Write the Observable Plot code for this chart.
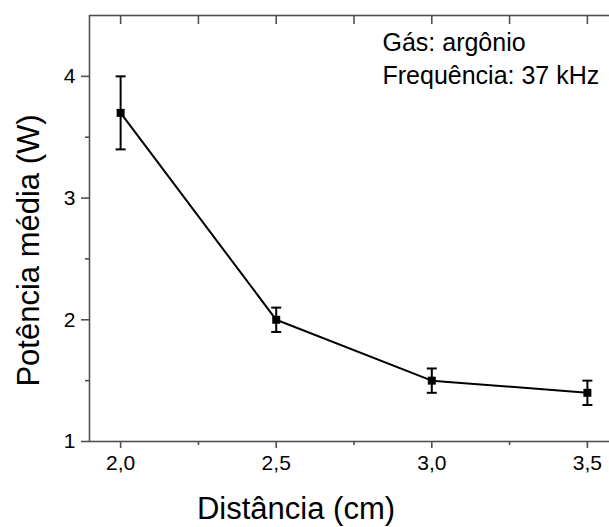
<!DOCTYPE html>
<html>
<head>
<meta charset="utf-8">
<script src="https://cdn.jsdelivr.net/npm/d3@7"></script>
<script src="https://cdn.jsdelivr.net/npm/@observablehq/plot@0.6"></script>
<style>
  html, body { margin: 0; padding: 0; background: white; overflow: hidden; }
  #chart svg { max-width: none !important; }
</style>
</head>
<body>
<div id="chart"></div>
<script>
// Data
const distancia = [2.0, 2.5, 3.0, 3.5];
const potencia = [3.7, 2.0, 1.5, 1.4];
const erro = [0.3, 0.1, 0.1, 0.1];

const xTicks = [2.0, 2.5, 3.0, 3.5];
const xTickLabels = ["2,0", "2,5", "3,0", "3,5"];
const xMinorTicks = [2.25, 2.75, 3.25];
const xTopTicks = [2.0, 2.25, 2.5, 2.75, 3.0, 3.25, 3.5];
const yTicks = [1, 2, 3, 4];
const yTickLabels = ["1", "2", "3", "4"];
const yMinorTicks = [1.5, 2.5, 3.5];

const xTitle = "Distância (cm)";
const yTitle = "Potência média (W)";
const annotationLines = ["Gás: argônio", "Frequência: 37 kHz"];

const data = distancia.map((d, i) => ({
  x: d, y: potencia[i], lo: potencia[i] - erro[i], hi: potencia[i] + erro[i]
}));

const capSymbol = {
  draw(ctx, size) {
    const r = Math.sqrt(size / Math.PI);
    ctx.moveTo(-r, 0);
    ctx.lineTo(r, 0);
  }
};

const axisColor = "#505050";
const font = "'Liberation Sans', Arial, Helvetica, sans-serif";

const chart = Plot.plot({
  width: 628,
  height: 527,
  marginLeft: 89,
  marginRight: 10,
  marginTop: 15,
  marginBottom: 86,
  style: { fontFamily: font, background: "white", color: "black", maxWidth: "none" },
  x: { domain: [1.9, 3.6], label: null },
  y: { domain: [1, 4.5], label: null },
  marks: [
    Plot.frame({ stroke: axisColor, strokeWidth: 1.6 }),
    // bottom axis
    Plot.axisX(xTicks, {
      anchor: "bottom", tickSize: 7, tickPadding: 7, fontSize: 21,
      stroke: axisColor, strokeWidth: 1.6, fill: "black",
      tickFormat: d => xTickLabels[xTicks.indexOf(d)], label: null
    }),
    Plot.axisX(xMinorTicks, {
      anchor: "bottom", tickSize: 4, stroke: axisColor, strokeWidth: 1.6,
      tickFormat: () => "", label: null
    }),
    // top axis (inward ticks)
    Plot.axisX(xTopTicks, {
      anchor: "top", tickSize: -8, stroke: axisColor, strokeWidth: 1.6,
      tickFormat: () => "", label: null
    }),
    // left axis
    Plot.axisY(yTicks, {
      anchor: "left", tickSize: 8, tickPadding: 6, fontSize: 21,
      stroke: axisColor, strokeWidth: 1.6, fill: "black",
      tickFormat: d => yTickLabels[yTicks.indexOf(d)], label: null
    }),
    Plot.axisY(yMinorTicks, {
      anchor: "left", tickSize: 4, stroke: axisColor, strokeWidth: 1.6,
      tickFormat: () => "", label: null
    }),
    // right axis (inward ticks)
    Plot.axisY(yTicks, {
      anchor: "right", tickSize: -10, stroke: axisColor, strokeWidth: 1.6,
      tickFormat: () => "", label: null
    }),
    // error bars
    Plot.ruleX(data, { x: "x", y1: "lo", y2: "hi", stroke: "black", strokeWidth: 2 }),
    Plot.dot(data, { x: "x", y: "hi", symbol: capSymbol, r: 5, fill: "none", stroke: "black", strokeWidth: 2 }),
    Plot.dot(data, { x: "x", y: "lo", symbol: capSymbol, r: 5, fill: "none", stroke: "black", strokeWidth: 2 }),
    // line and markers
    Plot.line(data, { x: "x", y: "y", stroke: "black", strokeWidth: 2 }),
    Plot.dot(data, { x: "x", y: "y", symbol: "square", r: 4.5, fill: "black", stroke: "none" }),
    // annotation
    Plot.text([annotationLines.join("\n")], {
      frameAnchor: "top-left", textAnchor: "start", lineAnchor: "top",
      dx: 293, dy: 12, fontSize: 25, lineHeight: 1.33, fill: "black"
    }),
    // axis titles
    Plot.text([xTitle], {
      frameAnchor: "bottom", textAnchor: "middle", lineAnchor: "bottom",
      dx: -58, dy: 77, fontSize: 31, fill: "black"
    }),
    Plot.text([yTitle], {
      frameAnchor: "left", textAnchor: "middle", lineAnchor: "middle",
      rotate: -90, dx: -60, dy: 22, fontSize: 31, fill: "black"
    })
  ]
});

document.getElementById("chart").appendChild(chart);
</script>
</body>
</html>
